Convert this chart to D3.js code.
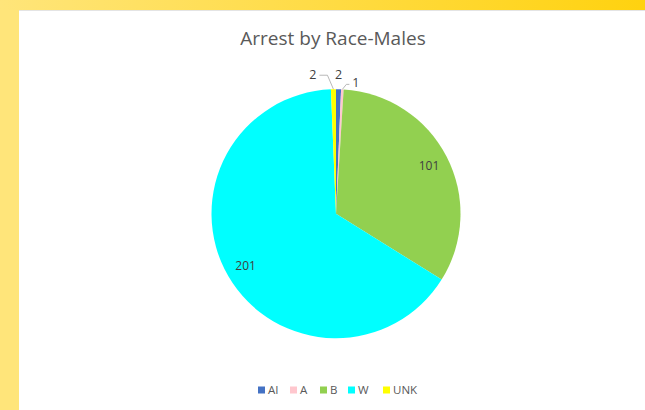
<!DOCTYPE html>
<html><head><meta charset="utf-8">
<script src="https://cdn.jsdelivr.net/npm/d3@7"></script>
<style>html,body{margin:0;padding:0;background:#fff;}svg{display:block;}</style>
</head><body>
<script>
const categories = ["AI", "A", "B", "W", "UNK"];
const values = [2, 1, 101, 201, 2];
const colors = ["#4472C4", "#FFC7CE", "#92D050", "#00FFFF", "#FFFF00"];
const title = "Arrest by Race-Males";

const W = 645, H = 410;
const svg = d3.select("body").append("svg").attr("width", W).attr("height", H);
const defs = svg.append("defs");
const g1 = defs.append("linearGradient").attr("id", "topband").attr("x1", "0").attr("x2", "1");
g1.append("stop").attr("offset", "0").attr("stop-color", "#FFE57A");
g1.append("stop").attr("offset", "1").attr("stop-color", "#FFD20F");

svg.append("rect").attr("x", 0).attr("y", 0).attr("width", W).attr("height", H).attr("fill", "#FFE57A");
svg.append("rect").attr("x", 0).attr("y", 0).attr("width", W).attr("height", 10).attr("fill", "url(#topband)");
svg.append("rect").attr("x", 19).attr("y", 10).attr("width", W - 19).attr("height", H - 10).attr("fill", "#fff");
svg.append("line").attr("x1", 19).attr("x2", W).attr("y1", 10.5).attr("y2", 10.5).attr("stroke", "#e4e4e4").attr("stroke-width", 1);

svg.append("text").attr("x", 333).attr("y", 45).attr("text-anchor", "middle")
  .attr("font-family", "'Open Sans', sans-serif").attr("font-size", 19).attr("fill", "#595959")
  .text(title);

const cx = 336, cy = 213.7, R = 124.5;
const pie = d3.pie().sort(null).value(d => d);
const arcs = pie(values);
const arc = d3.arc().innerRadius(0).outerRadius(R);
const g = svg.append("g").attr("transform", `translate(${cx},${cy})`);
g.selectAll("path").data(arcs).enter().append("path")
  .attr("d", arc).attr("fill", (d, i) => colors[i]);

const font = "'Open Sans', sans-serif";
// inside labels for large slices
const labelArc = d3.arc().innerRadius(R * 0.84).outerRadius(R * 0.84);
arcs.forEach((a, i) => {
  if (values[i] < 20) return;
  const [x, y] = labelArc.centroid(a);
  g.append("text").attr("x", x).attr("y", y).attr("dy", "0.35em").attr("text-anchor", "middle")
    .attr("font-family", font).attr("font-size", 12).attr("fill", "#404040").text(values[i]);
});

// outside labels for tiny slices
const outside = {
  4: {ex: -6, ey: -14, hx: -14, tx: -17, ty: -15, anchor: "end", line: true},
  0: {tx: 0, ty: -15, anchor: "middle", line: false},
  1: {ex: 4, ey: -5, hx: 7, tx: 10, ty: -7, anchor: "start", line: true}
};
const edge = d3.arc().innerRadius(R).outerRadius(R);
arcs.forEach((a, i) => {
  const o = outside[i];
  if (!o) return;
  const [px, py] = edge.centroid(a);
  if (o.line) {
    g.append("polyline")
      .attr("points", `${px},${py} ${px + o.ex},${py + o.ey} ${px + o.hx},${py + o.ey}`)
      .attr("fill", "none").attr("stroke", "#a6a6a6").attr("stroke-width", 0.8);
  }
  g.append("text").attr("x", px + o.tx).attr("y", py + o.ty).attr("dy", "0.35em")
    .attr("text-anchor", o.anchor).attr("font-family", font).attr("font-size", 12.5)
    .attr("fill", "#404040").text(values[i]);
});

// legend
const legendX = [258, 290, 320, 348, 383];
const leg = svg.append("g");
categories.forEach((c, i) => {
  leg.append("rect").attr("x", legendX[i]).attr("y", 386.5).attr("width", 7).attr("height", 7).attr("fill", colors[i]);
  leg.append("text").attr("x", legendX[i] + 10).attr("y", 390).attr("dy", "0.35em")
    .attr("font-family", font).attr("font-size", 11.5).attr("fill", "#595959").text(c);
});
</script>
</body></html>
